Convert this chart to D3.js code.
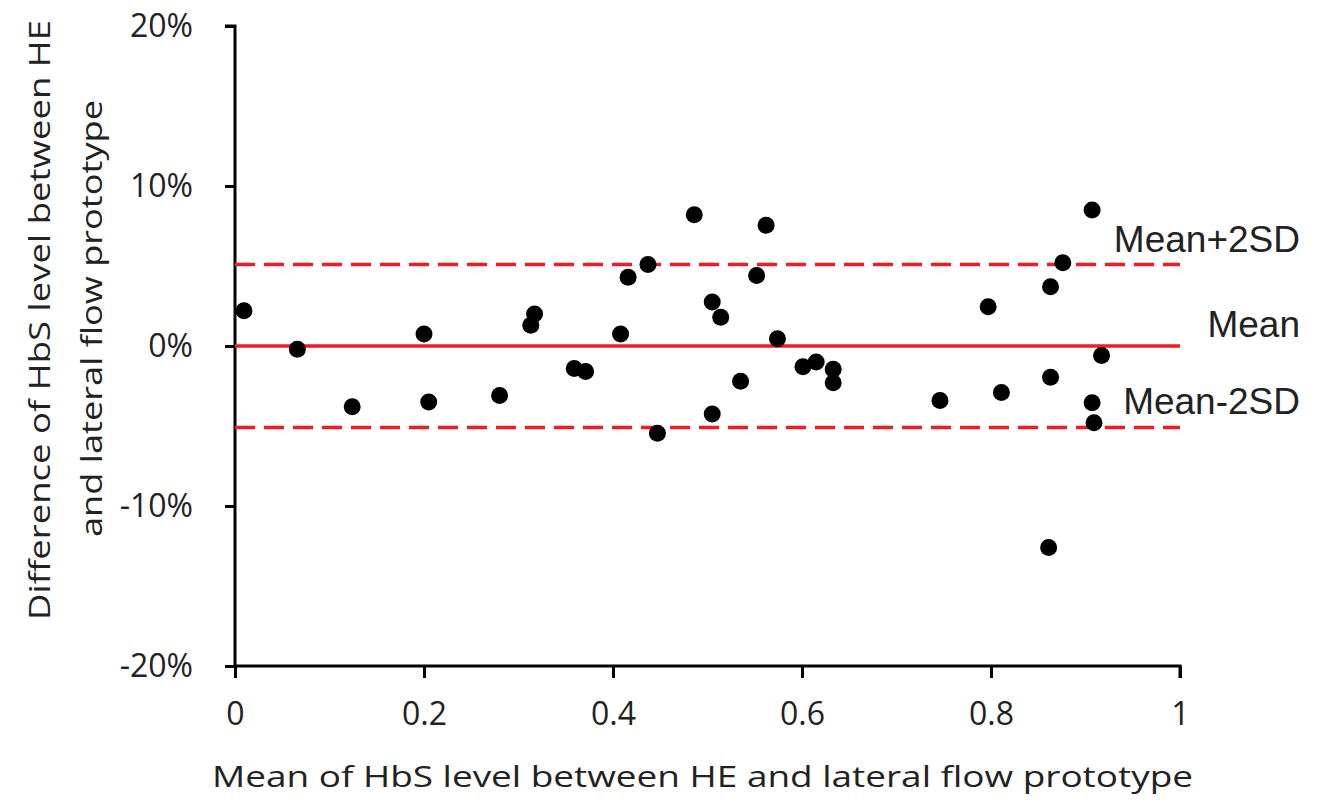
<!DOCTYPE html>
<html>
<head>
<meta charset="utf-8">
<script src="https://cdn.jsdelivr.net/npm/d3@7"></script>
<style>
  body { margin: 0; background: #fff; }
  svg { display: block; }
</style>
</head>
<body>
<svg id="svg" width="1317" height="806"></svg>
<script>
// mean of HbS level (x) and difference HE - lateral flow (y)
var xMean = [0.0095, 0.066, 0.124, 0.200, 0.205, 0.280, 0.317, 0.313, 0.359, 0.371,
             0.408, 0.416, 0.437, 0.447, 0.486, 0.505, 0.514, 0.505, 0.535, 0.552,
             0.562, 0.574, 0.601, 0.615, 0.633, 0.633, 0.746, 0.797, 0.811, 0.863,
             0.863, 0.907, 0.876, 0.917, 0.907, 0.909, 0.861];
var yDiff = [0.022, -0.002, -0.038, 0.0075, -0.035, -0.031, 0.020, 0.013, -0.014, -0.016,
             0.0075, 0.043, 0.051, -0.0545, 0.082, 0.0275, 0.018, -0.0425, -0.022, 0.044,
             0.0755, 0.0045, -0.013, -0.010, -0.0145, -0.023, -0.034, 0.0245, -0.029, 0.037,
             -0.0195, 0.085, 0.052, -0.006, -0.0355, -0.048, -0.126];

var refNames = ["Mean+2SD", "Mean", "Mean-2SD"];
var refValues = [0.051, 0, -0.051];

var xTicks = [0, 0.2, 0.4, 0.6, 0.8, 1];
var yTicks = [-0.2, -0.1, 0, 0.1, 0.2];

var svg = d3.select("#svg");
var red = "#ee1c25";

var x = d3.scaleLinear().domain([0, 1]).range([235, 1180]);
var y = d3.scaleLinear().domain([-0.2, 0.2]).range([666, 26]);

var pct = d3.format(".0%");

// axes
var xAxis = svg.append("g")
    .attr("transform", "translate(0," + y(-0.2) + ")")
    .call(d3.axisBottom(x).tickValues(xTicks).tickSize(12).tickPadding(24)
        .tickFormat(function(d) { return d === 0 || d === 1 ? d : d.toFixed(1); }));

var yAxis = svg.append("g")
    .attr("transform", "translate(" + x(0) + ",0)")
    .call(d3.axisLeft(y).tickValues(yTicks).tickSize(10).tickPadding(32)
        .tickFormat(function(d) { return pct(d).replace("\u2212", "-"); }));

[xAxis, yAxis].forEach(function(g) {
  g.select(".domain").attr("stroke", "#000").attr("stroke-width", 3);
  g.selectAll(".tick line").attr("stroke", "#000").attr("stroke-width", 3);
  g.selectAll(".tick text")
    .attr("fill", "#222")
    .attr("font-family", "Open Sans")
    .attr("font-size", "32px");
});
xAxis.select(".domain").attr("d", "M" + x(0) + ",0H" + x(1) + "V12");
yAxis.select(".domain").attr("d", "M-10," + y(0.2) + "H0V" + y(-0.2));

// reference lines
svg.selectAll(".ref")
    .data(refValues)
    .enter().append("line")
    .attr("class", "ref")
    .attr("x1", x(0))
    .attr("x2", x(1))
    .attr("y1", function(d) { return y(d); })
    .attr("y2", function(d) { return y(d); })
    .attr("stroke", red)
    .attr("stroke-width", 3.5)
    .attr("stroke-dasharray", function(d) { return d === 0 ? null : "20,9"; });

// points
svg.selectAll(".pt")
    .data(xMean)
    .enter().append("circle")
    .attr("class", "pt")
    .attr("cx", function(d) { return x(d); })
    .attr("cy", function(d, i) { return y(yDiff[i]); })
    .attr("r", 8.5)
    .attr("fill", "#000");

// reference labels
var labelBase = [252, 337, 414];
svg.selectAll(".reflab")
    .data(refNames)
    .enter().append("text")
    .attr("class", "reflab")
    .attr("x", 1300)
    .attr("y", function(d, i) { return labelBase[i]; })
    .attr("text-anchor", "end")
    .attr("font-family", "Liberation Sans")
    .attr("font-size", "37px")
    .attr("fill", "#222")
    .text(function(d) { return d; });

// axis titles
svg.append("text")
    .attr("x", 212)
    .attr("y", 787)
    .attr("font-family", "Open Sans")
    .attr("font-size", "30px")
    .attr("fill", "#222")
    .attr("textLength", 981)
    .attr("lengthAdjust", "spacingAndGlyphs")
    .text("Mean of HbS level between HE and lateral flow prototype");

svg.append("text")
    .attr("transform", "translate(50,620) rotate(-90)")
    .attr("font-family", "Open Sans")
    .attr("font-size", "30px")
    .attr("fill", "#222")
    .attr("textLength", 600)
    .attr("lengthAdjust", "spacingAndGlyphs")
    .text("Difference of HbS level between HE");

svg.append("text")
    .attr("transform", "translate(102,537) rotate(-90)")
    .attr("font-family", "Open Sans")
    .attr("font-size", "30px")
    .attr("fill", "#222")
    .attr("textLength", 437)
    .attr("lengthAdjust", "spacingAndGlyphs")
    .text("and lateral flow prototype");
</script>
</body>
</html>
